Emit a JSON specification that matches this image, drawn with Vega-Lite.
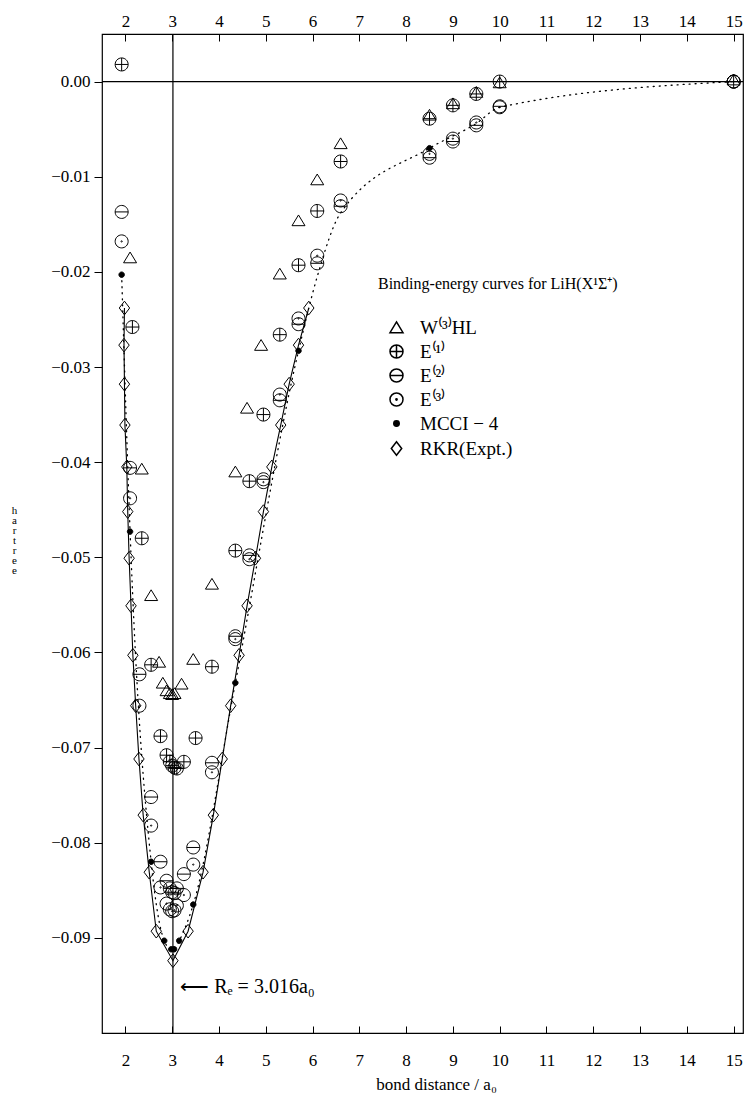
{
  "$schema": "https://vega.github.io/schema/vega-lite/v6.json",
  "width": 641,
  "height": 999,
  "autosize": {"type": "none"},
  "padding": {"left": 102, "top": 34, "right": 5, "bottom": 63},
  "background": "white",
  "config": {
    "view": {"stroke": "black", "strokeWidth": 1.2},
    "font": "Liberation Serif",
    "axis": {"labelFont": "Liberation Serif", "titleFont": "Liberation Serif", "labelColor": "black", "titleColor": "black", "domain": false, "grid": false, "tickColor": "black", "labelFontSize": 17, "titleFontWeight": "normal"},
    "legend": {"labelFont": "Liberation Serif", "titleFont": "Liberation Serif", "labelColor": "black", "titleColor": "black"}
  },
  "datasets": {
    "pts": [
      {"s": "W⁽³⁾HL", "x": 2.1, "y": -0.0185}, {"s": "W⁽³⁾HL", "x": 2.35, "y": -0.0407}, {"s": "W⁽³⁾HL", "x": 2.55, "y": -0.054}, {"s": "W⁽³⁾HL", "x": 2.72, "y": -0.061}, {"s": "W⁽³⁾HL", "x": 2.8, "y": -0.0632}, {"s": "W⁽³⁾HL", "x": 2.88, "y": -0.064}, {"s": "W⁽³⁾HL", "x": 2.95, "y": -0.0643}, {"s": "W⁽³⁾HL", "x": 3.0, "y": -0.0644}, {"s": "W⁽³⁾HL", "x": 3.05, "y": -0.0643}, {"s": "W⁽³⁾HL", "x": 3.2, "y": -0.0633}, {"s": "W⁽³⁾HL", "x": 3.45, "y": -0.0607}, {"s": "W⁽³⁾HL", "x": 3.85, "y": -0.0528}, {"s": "W⁽³⁾HL", "x": 4.35, "y": -0.041}, {"s": "W⁽³⁾HL", "x": 4.6, "y": -0.0343}, {"s": "W⁽³⁾HL", "x": 4.9, "y": -0.0277}, {"s": "W⁽³⁾HL", "x": 5.3, "y": -0.0202}, {"s": "W⁽³⁾HL", "x": 5.7, "y": -0.0146}, {"s": "W⁽³⁾HL", "x": 6.1, "y": -0.0103}, {"s": "W⁽³⁾HL", "x": 6.6, "y": -0.0065}, {"s": "W⁽³⁾HL", "x": 8.5, "y": -0.0035}, {"s": "W⁽³⁾HL", "x": 9.0, "y": -0.0023}, {"s": "W⁽³⁾HL", "x": 9.5, "y": -0.0011}, {"s": "W⁽³⁾HL", "x": 10, "y": -0.0001}, {"s": "W⁽³⁾HL", "x": 15, "y": 0.0002},
      {"s": "E⁽¹⁾", "x": 1.92, "y": 0.0018}, {"s": "E⁽¹⁾", "x": 2.15, "y": -0.0258}, {"s": "E⁽¹⁾", "x": 2.35, "y": -0.048}, {"s": "E⁽¹⁾", "x": 2.55, "y": -0.0613}, {"s": "E⁽¹⁾", "x": 2.75, "y": -0.0688}, {"s": "E⁽¹⁾", "x": 2.88, "y": -0.0708}, {"s": "E⁽¹⁾", "x": 2.95, "y": -0.0715}, {"s": "E⁽¹⁾", "x": 3.0, "y": -0.0719}, {"s": "E⁽¹⁾", "x": 3.05, "y": -0.0721}, {"s": "E⁽¹⁾", "x": 3.1, "y": -0.0722}, {"s": "E⁽¹⁾", "x": 3.25, "y": -0.0715}, {"s": "E⁽¹⁾", "x": 3.5, "y": -0.069}, {"s": "E⁽¹⁾", "x": 3.85, "y": -0.0615}, {"s": "E⁽¹⁾", "x": 4.35, "y": -0.0493}, {"s": "E⁽¹⁾", "x": 4.65, "y": -0.042}, {"s": "E⁽¹⁾", "x": 4.95, "y": -0.035}, {"s": "E⁽¹⁾", "x": 5.3, "y": -0.0266}, {"s": "E⁽¹⁾", "x": 5.7, "y": -0.0193}, {"s": "E⁽¹⁾", "x": 6.1, "y": -0.0136}, {"s": "E⁽¹⁾", "x": 6.6, "y": -0.0084}, {"s": "E⁽¹⁾", "x": 8.5, "y": -0.0039}, {"s": "E⁽¹⁾", "x": 9.0, "y": -0.0025}, {"s": "E⁽¹⁾", "x": 9.5, "y": -0.0013}, {"s": "E⁽¹⁾", "x": 10, "y": 0.0}, {"s": "E⁽¹⁾", "x": 15, "y": 0.0},
      {"s": "E⁽²⁾", "x": 1.92, "y": -0.0137}, {"s": "E⁽²⁾", "x": 2.1, "y": -0.0406}, {"s": "E⁽²⁾", "x": 2.3, "y": -0.0623}, {"s": "E⁽²⁾", "x": 2.55, "y": -0.0752}, {"s": "E⁽²⁾", "x": 2.75, "y": -0.082}, {"s": "E⁽²⁾", "x": 2.88, "y": -0.084}, {"s": "E⁽²⁾", "x": 2.95, "y": -0.0848}, {"s": "E⁽²⁾", "x": 3.0, "y": -0.0852}, {"s": "E⁽²⁾", "x": 3.05, "y": -0.0853}, {"s": "E⁽²⁾", "x": 3.1, "y": -0.0848}, {"s": "E⁽²⁾", "x": 3.25, "y": -0.0833}, {"s": "E⁽²⁾", "x": 3.45, "y": -0.0805}, {"s": "E⁽²⁾", "x": 3.85, "y": -0.0716}, {"s": "E⁽²⁾", "x": 4.35, "y": -0.0583}, {"s": "E⁽²⁾", "x": 4.65, "y": -0.0498}, {"s": "E⁽²⁾", "x": 4.95, "y": -0.0418}, {"s": "E⁽²⁾", "x": 5.3, "y": -0.0335}, {"s": "E⁽²⁾", "x": 5.7, "y": -0.0255}, {"s": "E⁽²⁾", "x": 6.1, "y": -0.0191}, {"s": "E⁽²⁾", "x": 6.6, "y": -0.0131}, {"s": "E⁽²⁾", "x": 8.5, "y": -0.008}, {"s": "E⁽²⁾", "x": 9.0, "y": -0.0063}, {"s": "E⁽²⁾", "x": 9.5, "y": -0.0046}, {"s": "E⁽²⁾", "x": 10, "y": -0.0026}, {"s": "E⁽²⁾", "x": 15, "y": 0.0},
      {"s": "E⁽³⁾", "x": 1.92, "y": -0.0168}, {"s": "E⁽³⁾", "x": 2.1, "y": -0.0438}, {"s": "E⁽³⁾", "x": 2.3, "y": -0.0656}, {"s": "E⁽³⁾", "x": 2.55, "y": -0.0782}, {"s": "E⁽³⁾", "x": 2.75, "y": -0.0847}, {"s": "E⁽³⁾", "x": 2.88, "y": -0.0864}, {"s": "E⁽³⁾", "x": 2.95, "y": -0.087}, {"s": "E⁽³⁾", "x": 3.0, "y": -0.0872}, {"s": "E⁽³⁾", "x": 3.05, "y": -0.0871}, {"s": "E⁽³⁾", "x": 3.1, "y": -0.0866}, {"s": "E⁽³⁾", "x": 3.25, "y": -0.0855}, {"s": "E⁽³⁾", "x": 3.45, "y": -0.0823}, {"s": "E⁽³⁾", "x": 3.85, "y": -0.0726}, {"s": "E⁽³⁾", "x": 4.35, "y": -0.0586}, {"s": "E⁽³⁾", "x": 4.65, "y": -0.0502}, {"s": "E⁽³⁾", "x": 4.95, "y": -0.0421}, {"s": "E⁽³⁾", "x": 5.3, "y": -0.0329}, {"s": "E⁽³⁾", "x": 5.7, "y": -0.0249}, {"s": "E⁽³⁾", "x": 6.1, "y": -0.0183}, {"s": "E⁽³⁾", "x": 6.6, "y": -0.0125}, {"s": "E⁽³⁾", "x": 8.5, "y": -0.0076}, {"s": "E⁽³⁾", "x": 9.0, "y": -0.006}, {"s": "E⁽³⁾", "x": 9.5, "y": -0.0043}, {"s": "E⁽³⁾", "x": 10, "y": -0.0027}, {"s": "E⁽³⁾", "x": 15, "y": 0.0},
      {"s": "MCCI − 4", "x": 1.92, "y": -0.0203}, {"s": "MCCI − 4", "x": 2.1, "y": -0.0473}, {"s": "MCCI − 4", "x": 2.55, "y": -0.082}, {"s": "MCCI − 4", "x": 2.83, "y": -0.0903}, {"s": "MCCI − 4", "x": 2.98, "y": -0.0912}, {"s": "MCCI − 4", "x": 3.04, "y": -0.0912}, {"s": "MCCI − 4", "x": 3.15, "y": -0.0903}, {"s": "MCCI − 4", "x": 3.45, "y": -0.0865}, {"s": "MCCI − 4", "x": 4.35, "y": -0.0632}, {"s": "MCCI − 4", "x": 5.7, "y": -0.0283}, {"s": "MCCI − 4", "x": 8.5, "y": -0.007},
      {"s": "RKR(Expt.)", "i": 1, "x": 1.98, "y": -0.0238}, {"s": "RKR(Expt.)", "i": 2, "x": 1.97, "y": -0.0277}, {"s": "RKR(Expt.)", "i": 3, "x": 1.98, "y": -0.0318}, {"s": "RKR(Expt.)", "i": 4, "x": 1.99, "y": -0.0361}, {"s": "RKR(Expt.)", "i": 5, "x": 2.03, "y": -0.0405}, {"s": "RKR(Expt.)", "i": 6, "x": 2.05, "y": -0.0452}, {"s": "RKR(Expt.)", "i": 7, "x": 2.08, "y": -0.0501}, {"s": "RKR(Expt.)", "i": 8, "x": 2.12, "y": -0.0551}, {"s": "RKR(Expt.)", "i": 9, "x": 2.16, "y": -0.0603}, {"s": "RKR(Expt.)", "i": 10, "x": 2.22, "y": -0.0656}, {"s": "RKR(Expt.)", "i": 11, "x": 2.29, "y": -0.0712}, {"s": "RKR(Expt.)", "i": 12, "x": 2.38, "y": -0.0771}, {"s": "RKR(Expt.)", "i": 13, "x": 2.51, "y": -0.0831}, {"s": "RKR(Expt.)", "i": 14, "x": 2.66, "y": -0.0893}, {"s": "RKR(Expt.)", "i": 15, "x": 3.016, "y": -0.0924}, {"s": "RKR(Expt.)", "i": 16, "x": 3.34, "y": -0.0893}, {"s": "RKR(Expt.)", "i": 17, "x": 3.66, "y": -0.0831}, {"s": "RKR(Expt.)", "i": 18, "x": 3.88, "y": -0.0771}, {"s": "RKR(Expt.)", "i": 19, "x": 4.07, "y": -0.0712}, {"s": "RKR(Expt.)", "i": 20, "x": 4.25, "y": -0.0656}, {"s": "RKR(Expt.)", "i": 21, "x": 4.43, "y": -0.0603}, {"s": "RKR(Expt.)", "i": 22, "x": 4.6, "y": -0.0551}, {"s": "RKR(Expt.)", "i": 23, "x": 4.78, "y": -0.0501}, {"s": "RKR(Expt.)", "i": 24, "x": 4.95, "y": -0.0452}, {"s": "RKR(Expt.)", "i": 25, "x": 5.13, "y": -0.0405}, {"s": "RKR(Expt.)", "i": 26, "x": 5.32, "y": -0.0361}, {"s": "RKR(Expt.)", "i": 27, "x": 5.5, "y": -0.0318}, {"s": "RKR(Expt.)", "i": 28, "x": 5.7, "y": -0.0277}, {"s": "RKR(Expt.)", "i": 29, "x": 5.92, "y": -0.0238}
    ],
    "curve": [
      {"x": 1.92, "y": -0.0203}, {"x": 2.1, "y": -0.0473}, {"x": 2.55, "y": -0.082}, {"x": 2.83, "y": -0.0903}, {"x": 2.98, "y": -0.0912}, {"x": 3.04, "y": -0.0912}, {"x": 3.15, "y": -0.0903}, {"x": 3.45, "y": -0.0865}, {"x": 4.35, "y": -0.0632}, {"x": 5.7, "y": -0.0283}, {"x": 6.1, "y": -0.0205}, {"x": 6.6, "y": -0.0138}, {"x": 8.5, "y": -0.007}, {"x": 9.5, "y": -0.0044}, {"x": 10, "y": -0.0027}, {"x": 15, "y": 0.0}
    ],
    "note": [{"x": 3.17, "y": -0.0952, "t": "⟵   Rₑ  =  3.016a₀"}],
    "zero": [{"y": 0}],
    "re": [{"x": 3.016}]
  },
  "resolve": {"axis": {"x": "independent"}},
  "layer": [
    {
      "data": {"name": "zero"},
      "mark": {"type": "rule", "color": "black", "strokeWidth": 1.2},
      "encoding": {
        "y": {"field": "y", "type": "quantitative", "scale": {"domain": [-0.1, 0.005], "nice": false, "zero": false},
          "axis": {"values": [-0.09, -0.08, -0.07, -0.06, -0.05, -0.04, -0.03, -0.02, -0.01, 0], "format": ".2f", "tickSize": 8, "labelPadding": 4, "title": ["h", "a", "r", "t", "r", "e", "e"], "titleColor": "black", "titleFontSize": 11, "titleLineHeight": 10, "titleAngle": 0, "titleAlign": "center", "titleBaseline": "top", "titleX": -88, "titleY": 470}}
      }
    },
    {
      "data": {"name": "re"},
      "mark": {"type": "rule", "color": "black", "strokeWidth": 1.2},
      "encoding": {
        "x": {"field": "x", "type": "quantitative", "scale": {"domain": [1.5, 15.2], "nice": false, "zero": false},
          "axis": {"orient": "top", "values": [2, 3, 4, 5, 6, 7, 8, 9, 10, 11, 12, 13, 14, 15], "tickSize": -7, "labelPadding": 11, "title": null}}
      }
    },
    {
      "data": {"name": "pts"},
      "transform": [{"filter": "datum.s === 'RKR(Expt.)'"}],
      "mark": {"type": "line", "color": "black", "strokeWidth": 1.1},
      "encoding": {
        "x": {"field": "x", "type": "quantitative", "axis": null},
        "y": {"field": "y", "type": "quantitative"},
        "order": {"field": "i"}
      }
    },
    {
      "data": {"name": "curve"},
      "mark": {"type": "line", "color": "black", "strokeWidth": 1.3, "strokeDash": [1, 5], "strokeCap": "round", "interpolate": "monotone"},
      "encoding": {
        "x": {"field": "x", "type": "quantitative", "axis": null},
        "y": {"field": "y", "type": "quantitative"}
      }
    },
    {
      "data": {"name": "pts"},
      "mark": {"type": "point", "color": "black", "strokeWidth": 1, "opacity": 1, "size": 169},
      "encoding": {
        "x": {"field": "x", "type": "quantitative",
          "axis": {"orient": "bottom", "values": [2, 3, 4, 5, 6, 7, 8, 9, 10, 11, 12, 13, 14, 15], "tickSize": -7, "labelPadding": 26, "title": "bond distance / a₀", "titleFontSize": 17, "titleX": 334, "titleY": 56, "titleBaseline": "alphabetic", "titleAnchor": "middle", "titleAlign": "center"}},
        "y": {"field": "y", "type": "quantitative"},
        "shape": {"field": "s", "type": "nominal", "title": "Binding-energy curves for LiH(X¹Σ⁺)",
          "scale": {"domain": ["W⁽³⁾HL", "E⁽¹⁾", "E⁽²⁾", "E⁽³⁾", "MCCI − 4", "RKR(Expt.)"],
            "range": ["M0,-0.85L1,0.8L-1,0.8Z", "M-1,0A1,1,0,1,1,1,0A1,1,0,1,1,-1,0ZM-1,0L1,0M0,-1L0,1", "M-1,0A1,1,0,1,1,1,0A1,1,0,1,1,-1,0ZM-1,0L1,0", "M-1,0A1,1,0,1,1,1,0A1,1,0,1,1,-1,0ZM-0.1,0A0.1,0.1,0,1,1,0.1,0A0.1,0.1,0,1,1,-0.1,0Z", "M-0.42,0A0.42,0.42,0,1,1,0.42,0A0.42,0.42,0,1,1,-0.42,0Z", "M-0.8,0L0,-1.05L0.8,0L0,1.05Z"]},
          "legend": {"orient": "none", "legendX": 276, "legendY": 242, "padding": 0, "titleFontSize": 16, "titleFontWeight": "normal", "titlePadding": 26, "titleLimit": 400, "labelFontSize": 19, "labelOffset": 14, "symbolOffset": 9, "rowPadding": 4, "symbolSize": 169,
            "encode": {"symbols": {"update": {"stroke": {"value": "black"}, "strokeWidth": {"value": 1}, "opacity": {"value": 1}}}}}},
        "fill": {"field": "s", "type": "nominal", "title": "Binding-energy curves for LiH(X¹Σ⁺)",
          "scale": {"domain": ["W⁽³⁾HL", "E⁽¹⁾", "E⁽²⁾", "E⁽³⁾", "MCCI − 4", "RKR(Expt.)"], "range": ["transparent", "transparent", "transparent", "transparent", "black", "transparent"]}}
      }
    },
    {
      "data": {"name": "note"},
      "mark": {"type": "text", "align": "left", "baseline": "middle", "fontSize": 20, "font": "Liberation Serif", "color": "black"},
      "encoding": {
        "x": {"field": "x", "type": "quantitative", "axis": null},
        "y": {"field": "y", "type": "quantitative"},
        "text": {"field": "t"}
      }
    }
  ]
}
